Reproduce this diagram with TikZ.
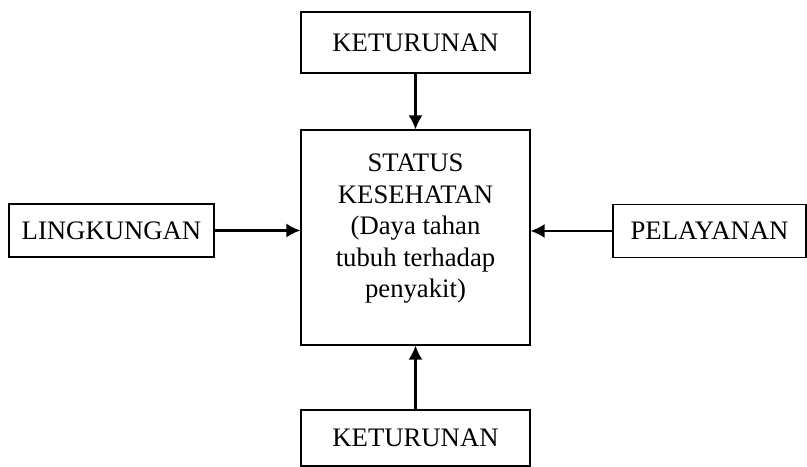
\documentclass[tikz,border=0pt]{standalone}
\usepackage{fontspec}
\setmainfont{Liberation Serif}
\usepackage{tikz}
\usetikzlibrary{arrows.meta,positioning,calc}
\tikzset{
  fbox/.style={draw, line width=0.8pt, fill=white, font=\fontsize{19}{22.5}\selectfont,
               minimum width=#1, minimum height=1.45cm, inner sep=2pt},
  mainbox/.style={draw, line width=0.8pt, font=\fontsize{19}{22.5}\selectfont,
                  minimum width=5.725cm, minimum height=5.375cm, align=center},
  farrow/.style={line width=1.6pt, -{Latex[length=10pt,width=10pt]}},
}
\begin{document}
\begin{tikzpicture}

\useasboundingbox (0,0) rectangle (20.175,11.675);

% Main box
\node[mainbox] (st) at (10.3875,5.7375)
      {STATUS\\KESEHATAN\\(Daya tahan\\tubuh terhadap\\penyakit)\\[-6pt]};

% Outer boxes
\node[fbox=5.725cm, minimum height=1.525cm] (kt1) at (10.3875,10.6125) {KETURUNAN};
\node[fbox=5.725cm, minimum height=1.4cm] (kt2) at (10.3875,0.725) {KETURUNAN};
\node[fbox=5.125cm, minimum height=1.325cm] (lk) at (2.7875,5.9125) {LINGKUNGAN};
\node[fbox=4.825cm, minimum height=1.325cm] (pl) at (17.7375,5.9) {PELAYANAN};

% Arrows
\draw[farrow] (kt1.south) -- (st.north);
\draw[farrow] (kt2.north) -- (st.south);
\draw[farrow] (lk.east) -- (lk.east -| st.west);
\draw[farrow] (pl.west) -- (pl.west -| st.east);

\end{tikzpicture}
\end{document}
